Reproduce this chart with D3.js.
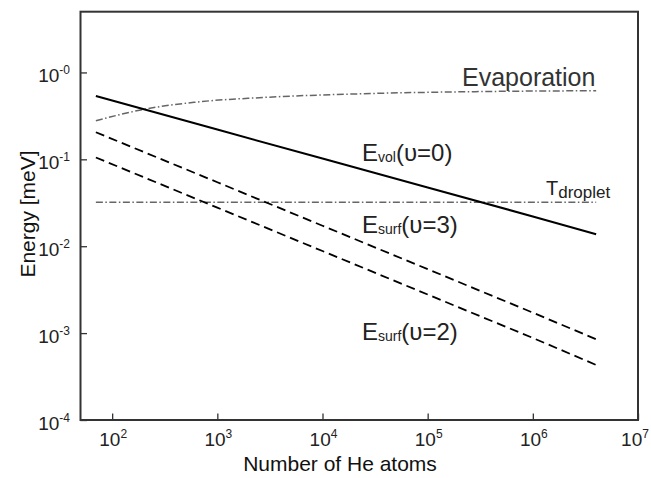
<!DOCTYPE html>
<html>
<head>
<meta charset="utf-8">
<script src="https://cdn.jsdelivr.net/npm/d3@7"></script>
<style>
  html, body { margin: 0; padding: 0; background: #fff; }
  svg { display: block; font-family: "Liberation Sans", Arial, sans-serif; }
</style>
</head>
<body>
<svg id="chart" width="651" height="478"></svg>
<script>
// Cluster size (number of He atoms) and energies in meV
const eVolN = [70, 1e3, 1e4, 1e5, 1e6, 4e6];
const eVol  = [0.535, 0.220, 0.102, 0.0475, 0.0220, 0.0137];

const eSurf3N = [70, 1e3, 1e4, 1e5, 1e6, 4e6];
const eSurf3  = [0.205, 0.0545, 0.0172, 0.00545, 0.00172, 0.00085];

const eSurf2N = [70, 1e3, 1e4, 1e5, 1e6, 4e6];
const eSurf2  = [0.105, 0.0278, 0.0088, 0.00278, 0.00088, 0.00043];

const evapN = [70, 200, 600, 2500, 2.2e4, 2.5e5, 4e6];
const evap  = [0.278, 0.376, 0.453, 0.512, 0.567, 0.600, 0.616];

const tDropletN = [70, 4e6];
const tDroplet  = [0.032, 0.032];

const xMajor = [1e2, 1e3, 1e4, 1e5, 1e6, 1e7];
const xMajorExp = ["2", "3", "4", "5", "6", "7"];
const yMajor = [1e-4, 1e-3, 1e-2, 1e-1, 1e0];
const yMajorExp = ["-4", "-3", "-2", "-1", "-0"];

const svg = d3.select("#chart");
const frame = { left: 80.5, right: 638, top: 11.7, bottom: 420 };

const x = d3.scaleLog().domain([50, 1e7]).range([frame.left, frame.right]);
const y = d3.scaleLog().domain([1e-4, 5]).range([frame.bottom, frame.top]);

// minor ticks: 2..9 within each decade
function minorTicks(lo, hi) {
  const out = [];
  for (let e = Math.floor(Math.log10(lo)); e <= Math.ceil(Math.log10(hi)); e++) {
    for (let m = 2; m <= 9; m++) {
      const v = m * Math.pow(10, e);
      if (v >= lo * 0.999 && v <= hi * 1.001) out.push(v);
    }
  }
  return out;
}

const axisColor = "#333";

// bottom axis (ticks point into the plot)
const gx = svg.append("g").attr("transform", `translate(0,${frame.bottom})`);
gx.call(d3.axisBottom(x).tickValues(minorTicks(50, 1e7)).tickSize(-4).tickFormat(""));
gx.call(d3.axisBottom(x).tickValues(xMajor).tickSize(-6.5).tickFormat(""));
gx.select(".domain").remove();
gx.selectAll("line").attr("stroke", axisColor).attr("stroke-width", 1.3);

// left axis
const gy = svg.append("g").attr("transform", `translate(${frame.left},0)`);
gy.call(d3.axisLeft(y).tickValues(minorTicks(1e-4, 5)).tickSize(-4).tickFormat(""));
gy.call(d3.axisLeft(y).tickValues(yMajor).tickSize(-6.5).tickFormat(""));
gy.select(".domain").remove();
gy.selectAll("line").attr("stroke", axisColor).attr("stroke-width", 1.3);

// frame
svg.append("rect")
  .attr("x", frame.left).attr("y", frame.top)
  .attr("width", frame.right - frame.left).attr("height", frame.bottom - frame.top)
  .attr("fill", "none").attr("stroke", axisColor).attr("stroke-width", 2);

// power-of-ten tick labels (last one kept inside the page edge)
const xl = svg.append("g").selectAll("text").data(xMajor).join("text")
  .attr("x", d => Math.min(x(d) + 1, 635)).attr("y", 446)
  .attr("text-anchor", "middle").attr("font-size", 19).attr("fill", "#222");
xl.append("tspan").text("10");
xl.append("tspan").attr("font-size", 12).attr("dy", -8).text((d, i) => xMajorExp[i]);

const yl = svg.append("g").selectAll("text").data(yMajor).join("text")
  .attr("x", 70).attr("y", d => y(d) + 10)
  .attr("text-anchor", "end").attr("font-size", 19).attr("fill", "#222");
yl.append("tspan").text("10");
yl.append("tspan").attr("font-size", 12).attr("dy", -8).text((d, i) => yMajorExp[i]);

// axis titles
svg.append("text")
  .attr("x", 340).attr("y", 471).attr("text-anchor", "middle")
  .attr("font-size", 21).attr("fill", "#111").text("Number of He atoms");
svg.append("text")
  .attr("transform", "translate(35,214) rotate(-90)").attr("text-anchor", "middle")
  .attr("font-size", 21).attr("fill", "#111").text("Energy [meV]");

// curves
const line = d3.line().x(d => x(d[0])).y(d => y(d[1]));
const smooth = d3.line().x(d => x(d[0])).y(d => y(d[1])).curve(d3.curveMonotoneX);
const zip = (a, b) => a.map((v, i) => [v, b[i]]);
const plot = svg.append("g");

plot.append("path").datum(zip(evapN, evap)).attr("d", smooth)
  .attr("fill", "none").attr("stroke", "#666").attr("stroke-width", 1.5)
  .attr("stroke-dasharray", "7,2.5,1.5,2.5");

plot.append("path").datum(zip(tDropletN, tDroplet)).attr("d", line)
  .attr("fill", "none").attr("stroke", "#666").attr("stroke-width", 1.5)
  .attr("stroke-dasharray", "7,2.5,1.5,2.5");

plot.append("path").datum(zip(eVolN, eVol)).attr("d", line)
  .attr("fill", "none").attr("stroke", "#000").attr("stroke-width", 2);

plot.append("path").datum(zip(eSurf3N, eSurf3)).attr("d", line)
  .attr("fill", "none").attr("stroke", "#000").attr("stroke-width", 1.8)
  .attr("stroke-dasharray", "9,5");

plot.append("path").datum(zip(eSurf2N, eSurf2)).attr("d", line)
  .attr("fill", "none").attr("stroke", "#000").attr("stroke-width", 1.8)
  .attr("stroke-dasharray", "9,5");

// curve labels
const labels = svg.append("g").attr("fill", "#222");
labels.append("text").attr("x", 462).attr("y", 86).attr("font-size", 25)
  .attr("fill", "#333").text("Evaporation");

function energyLabel(xp, yp, sub, level) {
  const t = labels.append("text").attr("x", xp).attr("y", yp).attr("font-size", 24);
  t.append("tspan").text("E");
  t.append("tspan").attr("font-size", 14).attr("dy", 1).text(sub);
  t.append("tspan").attr("dy", -1).text("(υ=" + level + ")");
}
energyLabel(362, 161, "vol", "0");
energyLabel(362, 233, "surf", "3");
energyLabel(362, 340, "surf", "2");

const td = labels.append("text").attr("x", 546).attr("y", 195).attr("font-size", 20);
td.append("tspan").text("T");
td.append("tspan").attr("font-size", 17).attr("dy", 3).text("droplet");
</script>
</body>
</html>
